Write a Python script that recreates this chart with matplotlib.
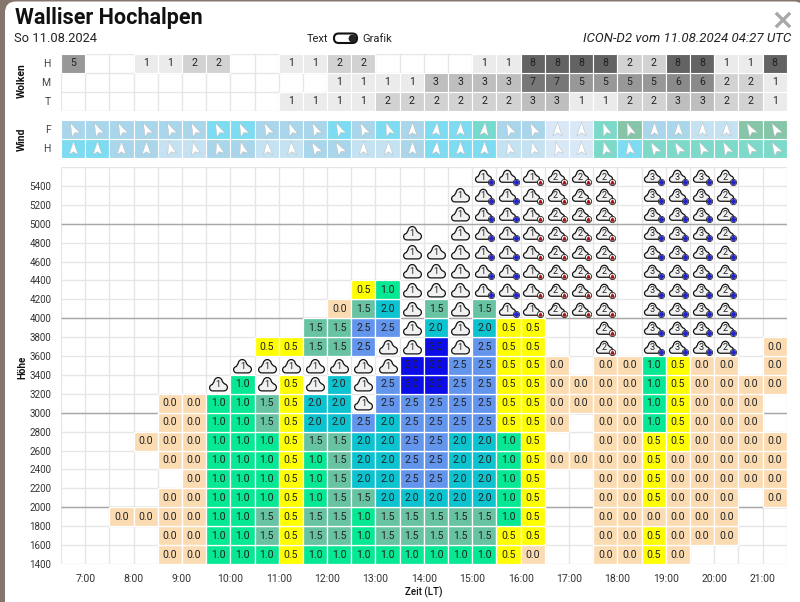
import matplotlib
matplotlib.use("Agg")
import matplotlib.pyplot as plt
import numpy as np
from matplotlib.markers import MarkerStyle
from matplotlib.patches import FancyBboxPatch
from matplotlib.path import Path
from matplotlib.transforms import Affine2D

plt.rcParams['font.family'] = ['Roboto', 'DejaVu Sans']

# half hour columns, 6:30 to 21:30
hour_labels = ["7:00", "8:00", "9:00", "10:00", "11:00", "12:00", "13:00", "14:00",
               "15:00", "16:00", "17:00", "18:00", "19:00", "20:00", "21:00"]
height_ticks = list(range(1400, 5600, 200))

clouds_high = [5, 0, 0, 1, 1, 2, 2, 0, 0, 1, 1, 2, 2, 0, 0, 0, 0, 1, 1, 8, 8, 8, 8, 2, 2, 8, 8, 1, 1, 8]
clouds_mid = [0, 0, 0, 0, 0, 0, 0, 0, 0, 0, 0, 1, 1, 1, 1, 3, 3, 3, 3, 7, 7, 5, 5, 5, 5, 6, 6, 2, 2, 1]
clouds_low = [0, 0, 0, 0, 0, 0, 0, 0, 0, 1, 1, 1, 1, 2, 2, 2, 2, 2, 2, 3, 3, 1, 1, 2, 2, 3, 3, 2, 2, 1]

# wind speed class per cell and arrow heading in degrees
wind_free = "m m m m m m c c m m m c m c m c c t m m v v a d m m l l d d".split()
wind_ground = "c c m m l l m m l l m m l l m c c c l l v v a c a a a a a a".split()
heading_free = [-25, -25, -25, -25, -25, -25, -25, -25, -25, -20, -25, -25, -25, -20, 0, 5, 0, 5,
                -25, -25, 0, 0, -20, -20, 0, 0, 0, 0, -30, -30]
heading_ground = [0, 0, 0, 0, -15, -15, -15, -15, -5, -5, -30, -30, 0, 0, 0, 5, 0, 0,
                  -15, -15, -15, 0, -15, -10, -30, -30, -25, -25, -30, -30]

# thermals per height band, bottom to top. C cloud, B cloud + blue badge, R cloud + red badge
band_1400 = ". . . . 0.0 0.0 1.0 1.0 1.0 0.5 1.0 1.0 1.0 1.0 1.0 1.0 1.0 1.0 0.5 0.0 . . 0.0 0.0 0.5 0.0 . . . ."
band_1600 = ". . . . 0.0 0.0 1.0 1.0 1.5 0.5 1.5 1.5 1.0 1.5 1.5 1.5 1.5 1.5 0.5 0.5 . . 0.0 0.0 0.5 0.0 0.0 0.0 . ."
band_1800 = ". . 0.0 0.0 0.0 0.0 1.0 1.0 1.5 0.5 1.5 1.5 1.0 1.5 1.5 1.5 1.5 1.5 1.0 0.5 . . 0.0 0.0 0.0 0.0 0.0 0.0 . ."
band_2000 = ". . . . 0.0 0.0 1.0 1.0 1.0 0.5 1.0 1.5 1.5 2.0 2.0 2.0 2.0 2.0 1.0 0.5 . . 0.0 0.0 0.5 0.0 0.0 0.0 . 0.0"
band_2200 = ". . . . . 0.0 1.0 1.0 1.0 0.5 1.0 1.5 2.0 2.0 2.5 2.5 2.0 2.0 1.0 0.5 . . 0.0 0.0 0.5 0.0 0.0 0.0 0.0 0.0"
band_2400 = ". . . . 0.0 0.0 1.0 1.0 1.0 0.5 1.0 1.5 2.0 2.0 2.5 2.5 2.0 2.0 1.0 0.5 0.0 0.0 0.0 0.0 0.5 0.0 0.0 0.0 0.0 0.0"
band_2600 = ". . . 0.0 0.0 0.0 1.0 1.0 1.0 0.5 1.5 1.5 2.0 2.0 2.5 2.5 2.0 2.0 1.0 0.5 . . 0.0 0.0 0.5 0.5 0.0 0.0 0.0 0.0"
band_2800 = ". . . . 0.0 0.0 1.0 1.0 1.5 0.5 2.0 2.0 2.5 2.0 2.5 2.5 2.5 2.5 0.5 0.5 0.0 . 0.0 0.0 1.0 0.5 0.0 0.0 0.0 ."
band_3000 = ". . . . 0.0 0.0 1.0 1.0 1.5 0.5 2.0 2.0 C1 2.5 2.5 2.5 2.5 2.5 0.5 0.5 0.0 0.0 0.0 0.0 1.0 0.5 0.0 0.0 0.0 ."
band_3200 = ". . . . . . C1 1.0 C1 0.5 C1 2.0 C1 2.5 3.0 3.0 2.5 2.5 0.5 0.5 0.0 0.0 0.0 0.0 1.0 0.5 0.0 0.0 0.0 0.0"
band_3400 = ". . . . . . . C1 C1 C1 C1 C1 C1 C1 3.0 3.0 2.5 2.5 0.5 0.5 0.0 . 0.0 0.0 1.0 0.5 0.0 0.0 . 0.0"
band_3600 = ". . . . . . . . 0.5 0.5 1.5 1.5 2.5 C1 C1 3.0 C1 2.5 0.5 0.5 . . R2 . B3 B3 B3 B2 . 0.0"
band_3800 = ". . . . . . . . . . 1.5 1.5 2.5 2.5 C1 2.0 C1 2.0 0.5 0.5 . . R2 . B3 B3 B3 B2 . ."
band_4000 = ". . . . . . . . . . . 0.0 1.5 2.0 C1 1.5 C1 1.5 B1 R1 R2 R2 R2 . B3 B3 B3 B2 . ."
band_4200 = ". . . . . . . . . . . . 0.5 1.0 C1 C1 C1 B1 B1 R1 R2 R2 R2 . B3 B3 B3 B2 . ."
band_4400 = ". . . . . . . . . . . . . . C1 C1 C1 B1 B1 R1 R2 R2 R2 . B3 B3 B3 B2 . ."
band_4600 = ". . . . . . . . . . . . . . C1 C1 C1 B1 B1 R1 R2 R2 R2 . B3 B3 B3 B2 . ."
band_4800 = ". . . . . . . . . . . . . . C1 . C1 B1 B1 R1 R2 R2 R2 . B3 B3 B3 B2 . ."
band_5000 = ". . . . . . . . . . . . . . . . C1 B1 B1 R1 R2 R2 R2 . B3 B3 B3 B2 . ."
band_5200 = ". . . . . . . . . . . . . . . . C1 B1 B1 R1 R2 R2 R2 . B3 B3 B3 B2 . ."
band_5400 = ". . . . . . . . . . . . . . . . . B1 B1 R1 R2 R2 R2 . B3 B3 B3 B2 . ."
bands = [band_1400, band_1600, band_1800, band_2000, band_2200, band_2400, band_2600,
         band_2800, band_3000, band_3200, band_3400, band_3600, band_3800, band_4000,
         band_4200, band_4400, band_4600, band_4800, band_5000, band_5200, band_5400]

lift_colors = {"0.0": "#fbdcb2", "0.5": "#ffff00", "1.0": "#06e893", "1.5": "#68c3a3",
               "2.0": "#0cc3cf", "2.5": "#6495ed", "3.0": "#0c0ce8"}
cloud_colors = {1: "#ebebeb", 2: "#d2d2d2", 3: "#bebebe", 5: "#989898", 6: "#8a8a8a",
                7: "#777777", 8: "#636363"}
wind_colors = {"m": "#a9d6ea", "c": "#7edcf2", "l": "#c4e2f1", "v": "#d9e8f7", "t": "#76dad0",
               "a": "#7ddacb", "d": "#86c5a8"}

W, H = 800, 602
GRID = "#e6e6e6"
TEXT = "#222222"


def add_axes(top, bottom):
    ax = fig.add_axes([61 / W, 1 - bottom / H, 725.7 / W, (bottom - top) / H])
    ax.patch.set_alpha(0)
    for s in ax.spines.values():
        s.set_visible(False)
    ax.set_xlim(0, 30)
    return ax


def cloud_path():
    # low bump left, high bump middle, low bump right, flat base
    a1 = np.radians(np.linspace(270, 100, 14))
    a2 = np.radians(np.linspace(170, 10, 18))
    a3 = np.radians(np.linspace(80, -90, 14))
    xs = np.r_[-0.64 + 0.36 * np.cos(a1), -0.03 + 0.48 * np.cos(a2), 0.60 + 0.40 * np.cos(a3)]
    ys = np.r_[-0.36 + 0.36 * np.sin(a1), 0.22 + 0.56 * np.sin(a2), -0.32 + 0.40 * np.sin(a3)]
    verts = np.c_[xs, ys]
    verts = np.vstack([verts, verts[0]])
    return Path(verts, closed=True)


fig = plt.figure(figsize=(W / 100, H / 100), dpi=100, facecolor="#85756c")

# modal frame
bg = fig.add_axes([0, 0, 1, 1])
bg.set_xlim(0, W)
bg.set_ylim(H, 0)
bg.axis("off")
bg.add_patch(FancyBboxPatch((5, 1.5), 800, 620, boxstyle="round,pad=0,rounding_size=11",
                            fc="white", ec="none"))
bg.text(15, 18, "Walliser Hochalpen", fontsize=15.5, fontweight="bold", color="#111111", va="center")
bg.text(14, 38.5, "So 11.08.2024", fontsize=9.3, color=TEXT, va="center")
bg.text(791, 38.5, "ICON-D2 vom 11.08.2024 04:27 UTC", fontsize=9.5, style="italic", color=TEXT,
        va="center", ha="right")
bg.text(328, 38.5, "Text", fontsize=8, color=TEXT, va="center", ha="right")
bg.text(362, 38.5, "Grafik", fontsize=8, color=TEXT, va="center", ha="left")
bg.add_patch(FancyBboxPatch((334, 33.5), 23, 9.5, boxstyle="round,pad=0,rounding_size=4.7",
                            fc="white", ec="#111111", lw=1.5))
bg.plot([352], [38.3], "o", ms=4.6, color="#222222")
bg.plot([777, 789], [14, 26], color="#a8a8a8", lw=2.4)
bg.plot([777, 789], [26, 14], color="#a8a8a8", lw=2.4)
bg.text(22, 81, "Wolken", fontsize=7.5, fontweight="bold", rotation=90, ha="center", va="center", color="#111111")
bg.text(22, 139, "Wind", fontsize=7.5, fontweight="bold", rotation=90, ha="center", va="center", color="#111111")

# cloud cover panel
ax_c = add_axes(53.5, 110.5)
ax_c.set_ylim(0, 3)
ax_c.vlines(np.arange(31), 0, 3, color=GRID, lw=1, zorder=0)
ax_c.hlines(np.arange(4), 0, 30, color=GRID, lw=1, zorder=0)
for row, vals in enumerate([clouds_low, clouds_mid, clouds_high]):
    for k, v in enumerate(vals):
        if v == 0:
            continue
        ax_c.bar(k + 0.5, 1, width=1, bottom=row, color=cloud_colors[v], edgecolor="white", lw=0.8, zorder=1)
        ax_c.text(k + 0.5, row + 0.5, str(v), fontsize=7.6, ha="center", va="center", color=TEXT, zorder=2)
ax_c.set_xticks([])
ax_c.set_yticks([0.5, 1.5, 2.5], ["T", "M", "H"], fontsize=7.5, color="#444444")
ax_c.tick_params(length=0, pad=7.5)

# wind panel
ax_w = add_axes(120, 157.5)
ax_w.set_ylim(0, 2)
arrow = Path([(0, 1), (0.62, -0.85), (0, -0.45), (-0.62, -0.85), (0, 1)], closed=True)
for row, (cls, heading) in enumerate([(wind_ground, heading_ground), (wind_free, heading_free)]):
    for k in range(30):
        ax_w.bar(k + 0.5, 1, width=1, bottom=row, color=wind_colors[cls[k]], edgecolor="white", lw=0.8, zorder=1)
        mk = MarkerStyle(arrow, transform=Affine2D().rotate_deg(-heading[k]))
        ax_w.plot([k + 0.5], [row + 0.5], marker=mk, ms=10.5, mfc="white", mec="#b5b5b5", mew=0.3,
                  ls="none", zorder=2)
ax_w.set_xticks([])
ax_w.set_yticks([0.5, 1.5], ["H", "F"], fontsize=7.5, color="#444444")
ax_w.tick_params(length=0, pad=7.5)

# main grid
ax = add_axes(167, 564)
ax.set_ylim(1400, 5600)
ax.vlines(np.arange(31), 1400, 5600, color=GRID, lw=1, zorder=0)
ax.hlines(np.arange(1400, 5800, 200), 0, 30, color=GRID, lw=1, zorder=0)
ax.hlines([2000, 3000, 4000, 5000], 0, 30, color="#a8a8a8", lw=1, zorder=0.5)
cloud = cloud_path()
for b, band in enumerate(bands):
    low = height_ticks[b]
    mid = low + 100
    for k, tok in enumerate(band.split()):
        if tok == ".":
            continue
        x = k + 0.5
        if tok in lift_colors:
            ax.bar(x, 200, width=1, bottom=low, color=lift_colors[tok], edgecolor="white", lw=0.9, zorder=1)
            ax.text(x, mid, tok, fontsize=7.6, ha="center", va="center", color=TEXT, zorder=2)
            continue
        kind, n = tok[0], tok[1]
        dx = 0 if kind == "C" else -0.05
        ms = 12.8 if kind == "C" else 11.5
        ax.plot([x + dx], [mid], marker=cloud, ms=ms, mfc="#f1f1f1", mec="#111111", mew=0.9, ls="none", zorder=2)
        ax.text(x + dx, mid - 6, n, fontsize=6.6, ha="center", va="center", color=TEXT, zorder=3)
        if kind != "C":
            ax.plot([x + 0.29], [mid - 55], "o", ms=4.5, mfc="white", mec="#222222", mew=0.6, ls="none", zorder=3)
            if kind == "B":
                ax.plot([x + 0.29], [mid - 55], "o", ms=2.6, color="#2222cc", ls="none", zorder=4)
            else:
                ax.plot([x + 0.29], [mid - 55], "^", ms=2.2, color="#a01818", ls="none", zorder=4)

ax.set_xticks(np.arange(1, 30, 2), hour_labels, fontsize=7.5, color="#333333")
ax.set_yticks(height_ticks, [str(h) for h in height_ticks], fontsize=7, color="#333333")
ax.tick_params(length=0, pad=7)
ax.tick_params(axis="x", pad=7)
ax.set_xlabel("Zeit (LT)", fontsize=7, fontweight="medium", color="#111111", labelpad=2)
bg.text(22, 367, "Höhe", fontsize=7, fontweight="bold", rotation=90, ha="center", va="center", color="#111111")

fig.savefig("out.png", dpi=100)
